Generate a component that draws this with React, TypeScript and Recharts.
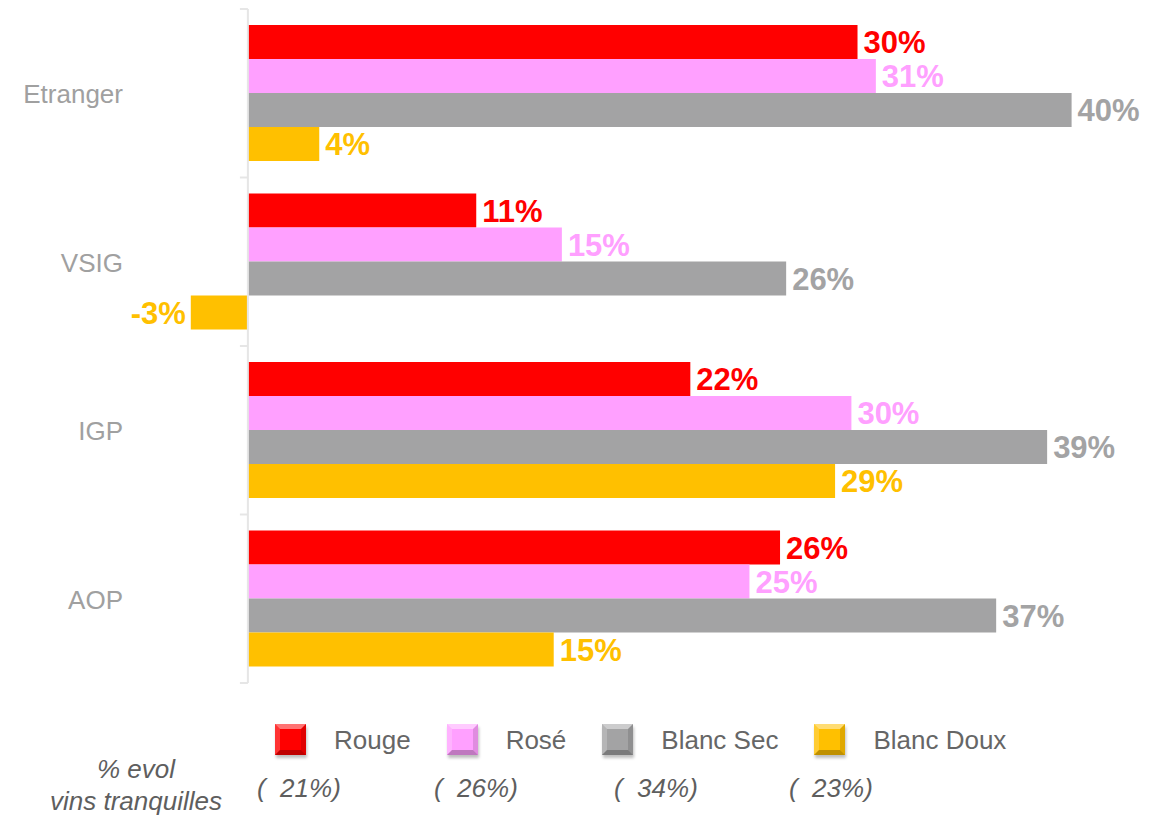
import React from "react";
import { Bar, BarChart, LabelList, ReferenceLine, XAxis, YAxis } from "recharts";

// categories top to bottom
const CATEGORIES = ["Etranger", "VSIG", "IGP", "AOP"];

// % evolution per colour (labels are rounded)
const ROUGE = [29.9, 11.2, 21.7, 26.1];
const ROSE = [30.8, 15.4, 29.6, 24.6];
const BLANC_SEC = [40.4, 26.4, 39.2, 36.7];
const BLANC_DOUX = [3.5, -2.8, 28.8, 15.0];

// overall evolution, still wines
const EVOL_TOTAL = [21, 26, 34, 23];

const SERIES = [
  { key: "rouge", name: "Rouge", color: "#FF0000" },
  { key: "rose", name: "Rosé", color: "#FFA0FF" },
  { key: "blancSec", name: "Blanc Sec", color: "#A3A3A4" },
  { key: "blancDoux", name: "Blanc Doux", color: "#FFC000" },
];

const data = CATEGORIES.map((name, i) => ({
  name,
  rouge: ROUGE[i],
  rose: ROSE[i],
  blancSec: BLANC_SEC[i],
  blancDoux: BLANC_DOUX[i],
}));

// layout
const W = 1173;
const H = 819;
const MARGIN = { top: 9, right: 28, bottom: 136, left: 0 };
const Y_WIDTH = 44;
const X_MIN = -10;
const X_MAX = 44;
const PLOT_W = W - MARGIN.left - MARGIN.right - Y_WIDTH;
const PLOT_H = H - MARGIN.top - MARGIN.bottom;
const ZERO_X = MARGIN.left + Y_WIDTH + ((0 - X_MIN) / (X_MAX - X_MIN)) * PLOT_W;
const HALF_BAND = PLOT_H / CATEGORIES.length / 2;
const LABEL_RIGHT = 123;
const EVOL_X = [257, 434, 614, 789];

const FONT = '"Liberation Sans", Arial, Helvetica, sans-serif';
const AXIS_GREY = "#E6E6E6";

function CategoryTick(props: any) {
  const { y, payload } = props;
  const i = CATEGORIES.indexOf(payload.value);
  return (
    <g>
      <text x={LABEL_RIGHT} y={y} dy={10} textAnchor="end" fontSize={26} fill="#A0A0A0" fontFamily={FONT}>
        {payload.value}
      </text>
      <line x1={ZERO_X - 8} x2={ZERO_X} y1={y - HALF_BAND} y2={y - HALF_BAND} stroke={AXIS_GREY} strokeWidth={2} />
      {i === CATEGORIES.length - 1 && (
        <line x1={ZERO_X - 8} x2={ZERO_X} y1={y + HALF_BAND} y2={y + HALF_BAND} stroke={AXIS_GREY} strokeWidth={2} />
      )}
    </g>
  );
}

function valueLabel(color: string) {
  return (props: any) => {
    const { x, y, width, height, value } = props;
    const left = Math.min(x, x + width);
    const right = Math.max(x, x + width);
    const neg = value < 0;
    return (
      <text
        x={neg ? left - 5 : right + 6}
        y={y + height / 2 + 11}
        textAnchor={neg ? "end" : "start"}
        fontSize={31}
        fontWeight="bold"
        fill={color}
        fontFamily={FONT}
      >
        {`${Math.round(value)}%`}
      </text>
    );
  };
}

function BevelSquare({ color }: { color: string }) {
  const s = 31;
  const b = 5;
  return (
    <svg width={s + 4} height={s + 5} style={{ display: "block", overflow: "visible" }}>
      <rect x={1} y={3} width={s} height={s} fill="rgba(0,0,0,0.25)" rx={1} style={{ filter: "blur(1.5px)" }} />
      <rect x={0} y={0} width={s} height={s} fill={color} />
      <polygon points={`0,0 ${s},0 ${s - b},${b} ${b},${b}`} fill="rgba(255,255,255,0.45)" />
      <polygon points={`0,0 ${b},${b} ${b},${s - b} 0,${s}`} fill="rgba(255,255,255,0.2)" />
      <polygon points={`${s},0 ${s},${s} ${s - b},${s - b} ${s - b},${b}`} fill="rgba(0,0,0,0.12)" />
      <polygon points={`0,${s} ${b},${s - b} ${s - b},${s - b} ${s},${s}`} fill="rgba(0,0,0,0.25)" />
    </svg>
  );
}

export default function App() {
  return (
    <div style={{ position: "absolute", left: 0, top: 0, width: W, height: H, background: "#fff", fontFamily: FONT }}>
      <BarChart
        width={W}
        height={H}
        data={data}
        layout="vertical"
        margin={MARGIN}
        barCategoryGap="9.5%"
        barGap={0}
      >
        <XAxis type="number" domain={[X_MIN, X_MAX]} hide allowDataOverflow />
        <YAxis
          type="category"
          dataKey="name"
          width={Y_WIDTH}
          axisLine={false}
          tickLine={false}
          interval={0}
          tick={<CategoryTick />}
        />
        <ReferenceLine x={0} stroke={AXIS_GREY} strokeWidth={2} />
        {SERIES.map((s) => (
          <Bar key={s.key} dataKey={s.key} name={s.name} fill={s.color} isAnimationActive={false}>
            <LabelList dataKey={s.key} content={valueLabel(s.color)} />
          </Bar>
        ))}
      </BarChart>

      {/* legend */}
      <div style={{ position: "absolute", left: 275, top: 724, display: "flex", alignItems: "flex-start" }}>
        {SERIES.map((s) => (
          <div key={s.key} style={{ display: "flex", alignItems: "flex-start", marginRight: 36 }}>
            <BevelSquare color={s.color} />
            <span style={{ marginLeft: 24, fontSize: 26, lineHeight: "31px", color: "#666", position: "relative", top: 1 }}>
              {s.name}
            </span>
          </div>
        ))}
      </div>

      <svg width={W} height={H} style={{ position: "absolute", left: 0, top: 0, pointerEvents: "none" }}>
        <g fontFamily={FONT} fontSize={26} fontStyle="italic" fill="#5E5E5E">
          <text x={136} y={778} textAnchor="middle">% evol</text>
          <text x={136} y={810} textAnchor="middle">vins tranquilles</text>
          {EVOL_TOTAL.map((v, i) => (
            <text key={i} x={EVOL_X[i]} y={797} style={{ whiteSpace: "pre" }}>
              {`(  ${v}%)`}
            </text>
          ))}
        </g>
      </svg>
    </div>
  );
}
